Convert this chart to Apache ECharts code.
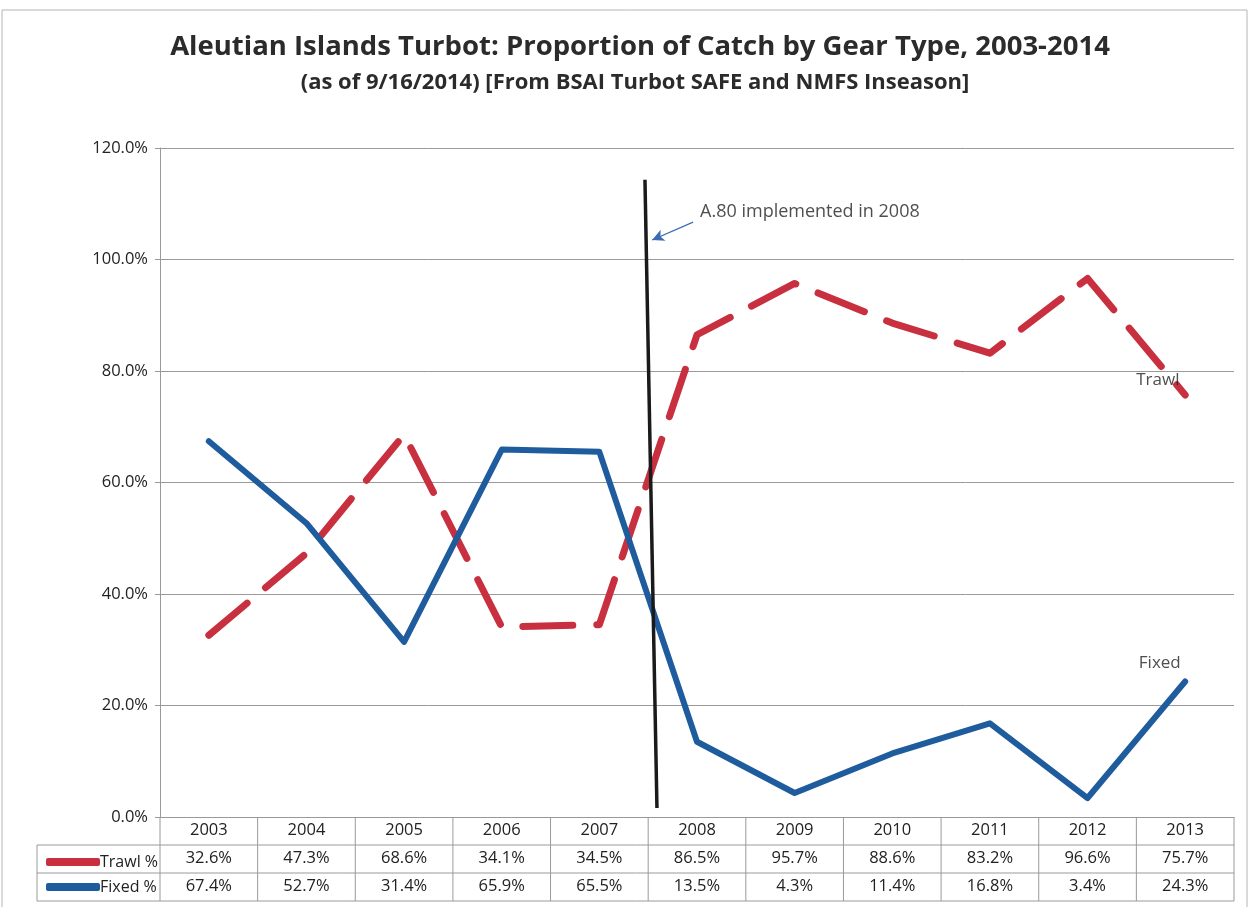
<!DOCTYPE html>
<html><head><meta charset="utf-8">
<script src="https://cdn.jsdelivr.net/npm/echarts@6/dist/echarts.min.js"></script>
<style>html,body{margin:0;padding:0;background:#fff}#c{width:1250px;height:907px}</style>
</head><body><div id="c"></div>
<script>
const years = ['2003','2004','2005','2006','2007','2008','2009','2010','2011','2012','2013'];
const trawl = [32.6,47.3,68.6,34.1,34.5,86.5,95.7,88.6,83.2,96.6,75.7];
const fixed = [67.4,52.7,31.4,65.9,65.5,13.5,4.3,11.4,16.8,3.4,24.3];
const yTicks = [0,20,40,60,80,100,120];
const divider = [[4.467,114.3],[4.59,1.6]];
const arrowFrom = [4.96,106.7], arrowTo = [4.54,103.5];
const noteText = 'A.80 implemented in 2008';
const notePos = [4.98,108.6];
const endLabels = [{name:'Trawl', pos:[9.72,78.4]},{name:'Fixed', pos:[9.74,27.6]}];

const FONT = 'Open Sans, sans-serif';
const RED = '#c9303f', BLUE = '#1f5c9e';
const chart = echarts.init(document.getElementById('c'));
const rowLbl = (arr) => (v, i) => arr[i].toFixed(1) + '%';
const catAxis = (off, fmt) => ({
  type:'category', gridIndex:0, position:'bottom', offset:off, data:years, boundaryGap:true,
  axisLine:{show: off===0, onZero:false, lineStyle:{color:'#999'}}, axisTick:{show:false},
  axisLabel:{margin:5, fontSize:16.5, color:'#222', fontFamily:FONT, formatter:fmt, interval:0},
  splitLine:{show:false}
});
chart.setOption({
  backgroundColor:'#fff',
  animation:false,
  title:[
    {text:'Aleutian Islands Turbot: Proportion of Catch by Gear Type, 2003-2014', left:635, textAlign:'center', top:28,
     textStyle:{fontFamily:FONT, fontWeight:'bold', fontSize:27.5, color:'#2b2b2b'}},
    {text:'(as of 9/16/2014) [From BSAI Turbot SAFE and NMFS Inseason]', left:630, textAlign:'center', top:67,
     textStyle:{fontFamily:FONT, fontWeight:'bold', fontSize:22, color:'#2b2b2b'}}
  ],
  legend:{orient:'vertical', left:41, top:849, itemWidth:54, itemHeight:8, itemGap:9,
    data:[{name:'Trawl %', icon:'roundRect'},{name:'Fixed %', icon:'roundRect'}],
    textStyle:{fontSize:16, color:'#222', fontFamily:FONT, padding:[0,0,0,-5]}},
  grid:{left:160, right:16, top:148, bottom:90},
  xAxis:[
    catAxis(0, null),
    catAxis(28, rowLbl(trawl)),
    catAxis(56, rowLbl(fixed)),
    {type:'value', gridIndex:0, min:-0.5, max:10.5, show:false, splitLine:{show:false}, axisLine:{show:false, onZero:false}}
  ],
  yAxis:{type:'value', min:0, max:120, interval:20,
    axisLine:{show:true, onZero:false, lineStyle:{color:'#999'}}, axisTick:{show:true, length:5, lineStyle:{color:'#999'}},
    axisLabel:{margin:12, fontSize:16.5, color:'#222', fontFamily:FONT, formatter:v=>v.toFixed(1)+'%'},
    splitLine:{lineStyle:{color:'#9a9a9a', width:1}}},
  series:[
    {name:'Trawl %', type:'line', xAxisIndex:0, data:trawl, symbol:'none', z:3,
     itemStyle:{color:RED},
     lineStyle:{color:RED, width:7, type:[50,24], cap:'round', join:'round'}},
    {name:'Fixed %', type:'line', xAxisIndex:0, data:fixed, symbol:'none', z:4,
     itemStyle:{color:BLUE},
     lineStyle:{color:BLUE, width:6, cap:'round', join:'round'}},
    {name:'divider', type:'line', xAxisIndex:3, data:divider, symbol:'none', z:5,
     lineStyle:{color:'#1a1a1a', width:3.5},
     markLine:{silent:true, symbol:['none','arrow'], symbolSize:[9,12],
       lineStyle:{color:'#3a6db0', width:1.3, type:'solid'}, label:{show:false},
       data:[[{coord:arrowFrom},{coord:arrowTo}]]}},
    {name:'notes', type:'scatter', xAxisIndex:3, symbolSize:0, z:6,
     data:[{value:notePos, label:{show:true, position:'right', formatter:noteText, fontSize:18, color:'#222', fontFamily:FONT}}]
       .concat(endLabels.map(e=>({value:e.pos, label:{show:true, position:'inside', formatter:e.name, fontSize:17, color:'#222', fontFamily:FONT}})))}
  ]
});

function drawTable(){
  const y0 = chart.convertToPixel({yAxisIndex:0}, 0);
  const rh = 28;
  const xs = [];
  for (let i=0;i<=years.length;i++) xs.push(chart.convertToPixel({xAxisIndex:3}, i-0.5));
  const left = 37, right = xs[xs.length-1];
  const st = {stroke:'#9a9a9a', lineWidth:1};
  const els = [];
  for (let r=1;r<=3;r++) els.push({type:'line', shape:{x1:left, y1:y0+rh*r, x2:right, y2:y0+rh*r}, style:st, silent:true});
  xs.forEach((x,i)=>{ els.push({type:'line', shape:{x1:x, y1:y0, x2:x, y2:y0+rh*3}, style:st, silent:true}); });
  els.push({type:'line', shape:{x1:left, y1:y0+rh, x2:left, y2:y0+rh*3}, style:st, silent:true});
  els.push({type:'rect', shape:{x:2, y:10, width:1245, height:905}, style:{fill:null, stroke:'#b5b5b5', lineWidth:1}, silent:true});
  chart.setOption({graphic:els});
}
drawTable();
</script></body></html>
